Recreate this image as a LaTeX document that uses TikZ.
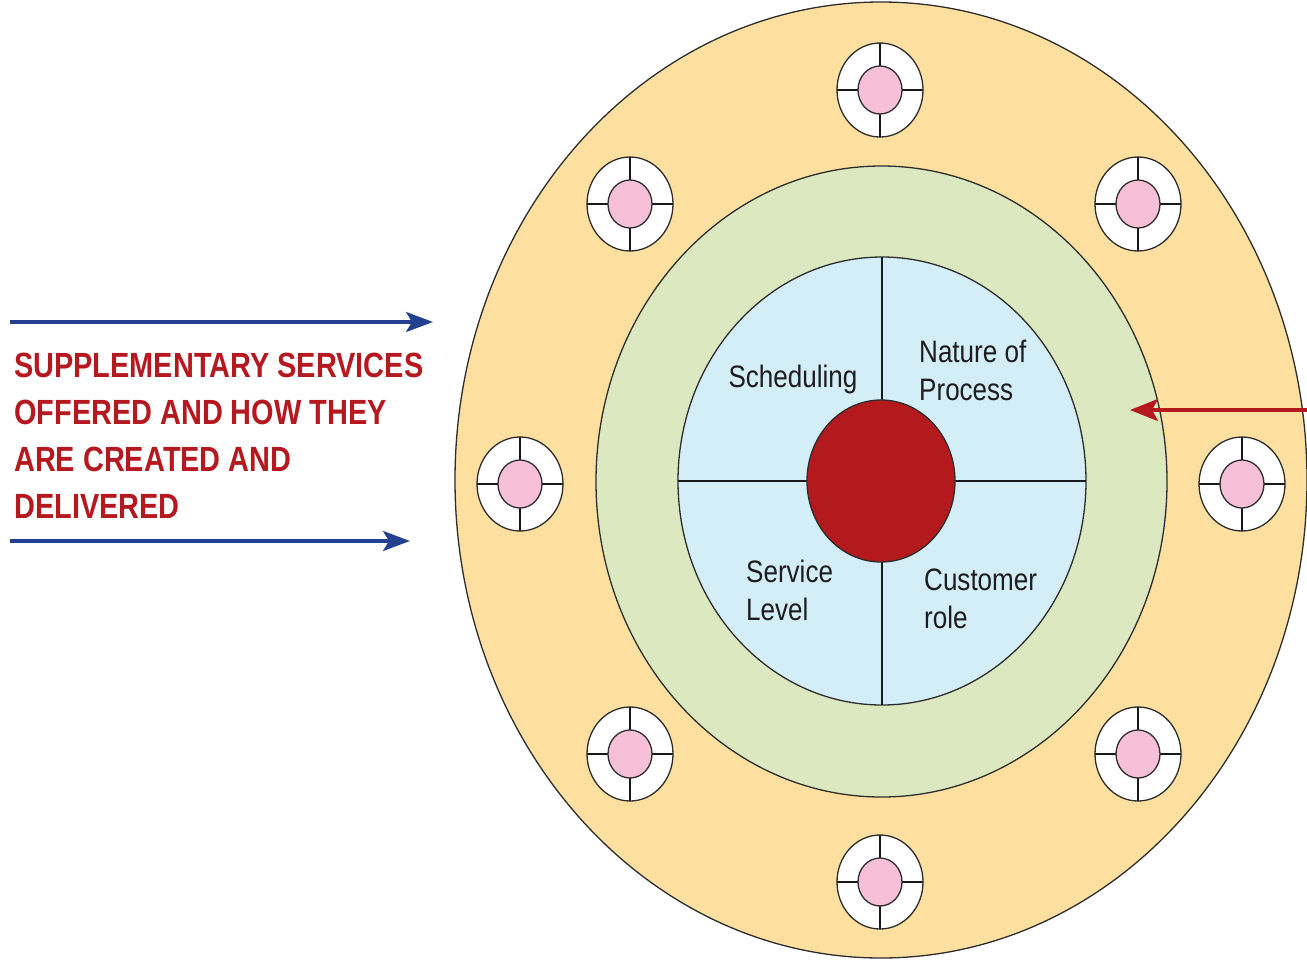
\documentclass[tikz,border=0pt]{standalone}
\usepackage{fontspec}
\setmainfont{Liberation Sans}
\newfontfamily\capfont[FakeStretch=0.826]{Liberation Sans}
\newfontfamily\lblfont[FakeStretch=0.84]{Liberation Sans}
\usetikzlibrary{shapes.geometric,arrows.meta}

\definecolor{peach}{RGB}{253,224,160}
\definecolor{leaf}{RGB}{220,233,192}
\definecolor{sky}{RGB}{212,238,248}
\definecolor{core}{RGB}{180,25,30}
\definecolor{pinkdot}{RGB}{247,191,216}
\definecolor{ringline}{RGB}{45,45,45}
\definecolor{capred}{RGB}{181,25,31}
\definecolor{arrowblue}{RGB}{35,64,145}
\definecolor{inktext}{RGB}{30,28,28}

\tikzset{
  ring/.style={ellipse, draw=ringline, line width=1.3pt, inner sep=0pt, outer sep=0pt},
  divider/.style={draw=black!90, line width=1.8pt},
  target/.style={ring, fill=white, minimum width=86pt, minimum height=94pt},
  dot/.style={ring, fill=pinkdot, minimum width=44pt, minimum height=48pt},
  lbl/.style={font=\lblfont\fontsize{31}{38}\selectfont, text=inktext, inner sep=0pt, align=left},
  caption/.style={font=\capfont\bfseries\fontsize{35}{46.7}\selectfont, text=capred, inner sep=0pt, align=left},
  bluearrow/.style={draw=arrowblue, line width=3.2pt, -{Stealth[length=27pt, width=20pt, inset=6pt]}},
  redarrow/.style={draw=capred, line width=3.6pt, -{Stealth[length=28pt, width=22pt, inset=6pt]}}
}

\begin{document}
\begin{tikzpicture}[x=1pt, y=-1pt]
\useasboundingbox (0,0) rectangle (1307,959);

% nested rings
\node[ring, fill=peach, minimum width=852pt, minimum height=956pt] (outer) at (881,480) {};
\node[ring, fill=leaf, minimum width=571pt, minimum height=631pt] (mid) at (881.5,481.5) {};
\node[ring, fill=sky, minimum width=408pt, minimum height=448pt] (inner) at (882,481) {};
\draw[divider] (inner.north) -- (inner.south);
\draw[divider] (inner.west) -- (inner.east);
\node[ring, fill=core, minimum width=148pt, minimum height=162pt] (core) at (881,481) {};

% eight supplementary-service markers
\foreach \n/\x/\y in {1/880/90, 2/630/204, 3/1138/204, 4/520/484,
                      5/1242/484, 6/630/754, 7/1138/754, 8/880/882} {
  \node[target] (t\n) at (\x,\y) {};
  \draw[divider] (t\n.north) -- (t\n.south) (t\n.west) -- (t\n.east);
  \node[dot] (p\n) at (\x,\y) {};
}

% quadrant labels (base anchor sits on the last line)
\node[lbl, anchor=base] (sched) at (793,387) {Scheduling};
\node[lbl, anchor=base west] (nature) at (919,400) {Nature of\\Process};
\node[lbl, anchor=base west] (level) at (746,620) {Service\\Level};
\node[lbl, anchor=base west] (role) at (924,628) {Customer\\role};

% caption with its arrows
\node[caption, anchor=base west] (supp) at (14,518)
  {SUPPLEMENTARY SERVICES\\OFFERED AND HOW THEY\\ARE CREATED AND\\DELIVERED};
\coordinate (b1s) at (10,322);  \coordinate (b1e) at (433,322);
\coordinate (b2s) at (10,541);  \coordinate (b2e) at (410,541);
\draw[bluearrow] (b1s) -- (b1e);
\draw[bluearrow] (b2s) -- (b2e);

\coordinate (rs) at (1310,410); \coordinate (re) at (1130,410);
\draw[redarrow] (rs) -- (re);
\end{tikzpicture}
\end{document}
